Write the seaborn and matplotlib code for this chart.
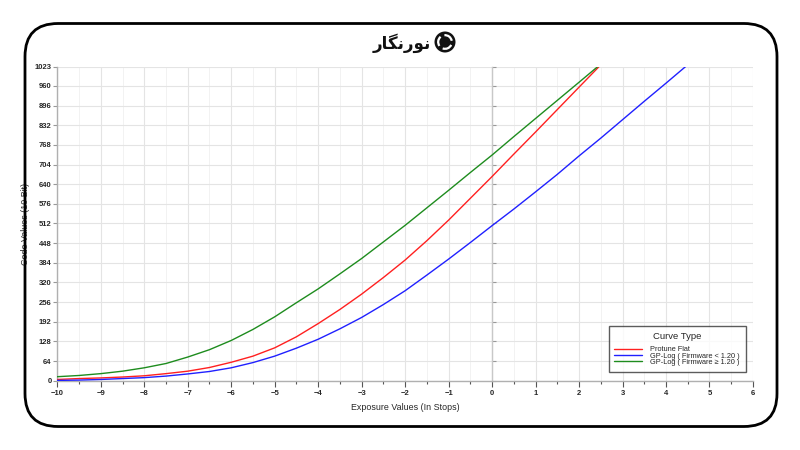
import matplotlib
matplotlib.use("Agg")
import matplotlib.pyplot as plt
import seaborn as sns
import pandas as pd
from matplotlib.patches import FancyBboxPatch, Circle, Arc
from matplotlib.ticker import MultipleLocator, FixedLocator
from matplotlib.lines import Line2D

# ---------------- data ----------------
series_names = ["Protune Flat", "GP-Log ( Firmware < 1.20 )", "GP-Log ( Firmware ≥ 1.20 )"]
series_colors = ["#ff2020", "#2020ff", "#1e8c1e"]

flat_ev = [-10, -9.5, -9, -8.5, -8, -7.5, -7, -6.5, -6, -5.5, -5, -4.5, -4, -3.5, -3, -2.5,
           -2, -1.5, -1, -0.5, 0, 0.5, 1, 1.5, 2, 2.46]
flat_code = [4, 7, 9, 12, 16, 23, 31, 43, 60, 80, 107, 143, 186, 232, 282, 336,
             393, 456, 523, 594, 665, 738, 810, 883, 956, 1023]

gplog_old_ev = [-10, -9.5, -9, -8.5, -8, -7.5, -7, -6.5, -6, -5.5, -5, -4.5, -4, -3.5, -3, -2.5,
                -2, -1.5, -1, -0.5, 0, 0.5, 1, 1.5, 2, 2.5, 3, 3.5, 4, 4.45]
gplog_old_code = [1, 2, 4, 7, 10, 15, 22, 30, 42, 59, 80, 106, 135, 169, 206, 248,
                  293, 344, 396, 450, 505, 559, 615, 672, 732, 790, 850, 910, 969, 1023]

gplog_new_ev = [-10, -9.5, -9, -8.5, -8, -7.5, -7, -6.5, -6, -5.5, -5, -4.5, -4, -3.5, -3, -2.5,
                -2, -1.5, -1, -0.5, 0, 0.5, 1, 1.5, 2, 2.43]
gplog_new_code = [13, 17, 23, 31, 42, 56, 77, 101, 131, 167, 208, 254, 299, 348, 398, 452,
                  506, 563, 620, 678, 735, 795, 854, 913, 972, 1023]

x_ticks = list(range(-10, 7))
y_ticks = [0, 64, 128, 192, 256, 320, 384, 448, 512, 576, 640, 704, 768, 832, 896, 960, 1023]

rows = []
for name, xs, ys in [(series_names[0], flat_ev, flat_code),
                     (series_names[1], gplog_old_ev, gplog_old_code),
                     (series_names[2], gplog_new_ev, gplog_new_code)]:
    for xv, yv in zip(xs, ys):
        rows.append({"EV": xv, "Code": yv, "Curve Type": name})
df = pd.DataFrame(rows)

# ---------------- figure ----------------
sns.set_style("white")
plt.rcParams["font.family"] = ["Liberation Sans", "DejaVu Sans"]

fig = plt.figure(figsize=(8, 4.5), dpi=100)
fig.patch.set_facecolor("white")

# rounded outer frame (in inches)
frame = FancyBboxPatch((0.25, 0.235), 7.52, 4.03,
                       boxstyle="round,pad=0,rounding_size=0.33",
                       transform=fig.dpi_scale_trans, facecolor="none",
                       edgecolor="black", linewidth=2.0, zorder=5)
fig.patches.append(frame)

ax = fig.add_axes([0.0716, 0.154, 0.8696, 0.698])
ax.set_facecolor("white")

sns.lineplot(data=df, x="EV", y="Code", hue="Curve Type", hue_order=series_names,
             palette=series_colors, linewidth=1.0, ax=ax, sort=False, estimator=None,
             legend=False, zorder=3)

ax.set_xlim(-10, 6)
ax.set_ylim(0, 1023)
ax.xaxis.set_major_locator(FixedLocator(x_ticks))
ax.xaxis.set_minor_locator(MultipleLocator(0.5))
ax.yaxis.set_major_locator(FixedLocator(y_ticks))

ax.grid(which="major", axis="both", color="#e4e4e4", linewidth=0.8, zorder=0)
ax.grid(which="minor", axis="x", color="#f0f0f0", linewidth=0.6, zorder=0)

ax.spines["top"].set_visible(False)
ax.spines["left"].set_color("#b0b0b0")
ax.spines["bottom"].set_color("#b0b0b0")
ax.spines["left"].set_linewidth(1.0)
ax.spines["bottom"].set_linewidth(1.0)
ax.spines["right"].set_position(("data", 0))
ax.spines["right"].set_color("#c8c8c8")
ax.spines["right"].set_linewidth(1.0)

ax.tick_params(axis="y", which="both", left=True, right=True, labelright=False,
               direction="out", length=3, width=0.8, color="#999999",
               labelsize=5.5, pad=1)
ax.tick_params(axis="x", which="major", bottom=True, direction="out", length=4,
               width=0.8, color="#555555", labelsize=5.5, pad=3)
ax.tick_params(axis="x", which="minor", bottom=True, direction="out", length=2.5,
               width=0.8, color="#555555")
for lab in ax.get_xticklabels() + ax.get_yticklabels():
    lab.set_fontweight("bold")

ax.set_xlabel("")
ax.set_ylabel("")
fig.text(405 / 800, 1 - 407 / 450, "Exposure Values (In Stops)", ha="center", va="center",
         fontsize=6.4)
fig.text(26 / 800, 1 - 224 / 450, "Code Values (10 Bit)", ha="center", va="center",
         rotation=90, fontsize=6.4)

handles = [Line2D([0], [0], color=c, linewidth=1.0) for c in series_colors]
leg = ax.legend(handles, series_names, title="Curve Type", loc="lower right",
                bbox_to_anchor=(0.99, 0.028), fontsize=5.3, title_fontsize=6.8,
                frameon=True, fancybox=False, handlelength=3.8, handletextpad=1.1,
                labelspacing=-0.1, borderpad=0.8, borderaxespad=0)
leg.get_frame().set_edgecolor("#333333")
leg.get_frame().set_linewidth(1.0)
leg.set_zorder(5)
try:
    leg._legend_box.sep = 3.5  # gap between title and entries (points)
except Exception:
    pass

# logo: Persian wordmark + icon
fig.text(431 / 800, 1 - 43 / 450, "\ufead\ufe8e\ufb95\ufee7\ufead\ufeee\ufee7",
         ha="right", va="center", fontsize=12, fontweight="bold",
         family=["DejaVu Sans"], color="#111111")
cx, cy, r = 4.45, 4.5 - 0.42, 0.105
fig.patches.append(Circle((cx, cy), r, transform=fig.dpi_scale_trans,
                          facecolor="#111111", edgecolor="none", zorder=2))
for ang in (0, 120, 240):
    fig.patches.append(Arc((cx, cy), r * 1.3, r * 1.3, angle=ang, theta1=10, theta2=95,
                           transform=fig.dpi_scale_trans, color="white",
                           linewidth=1.6, zorder=3))

fig.savefig("out.png", dpi=100, facecolor="white")
